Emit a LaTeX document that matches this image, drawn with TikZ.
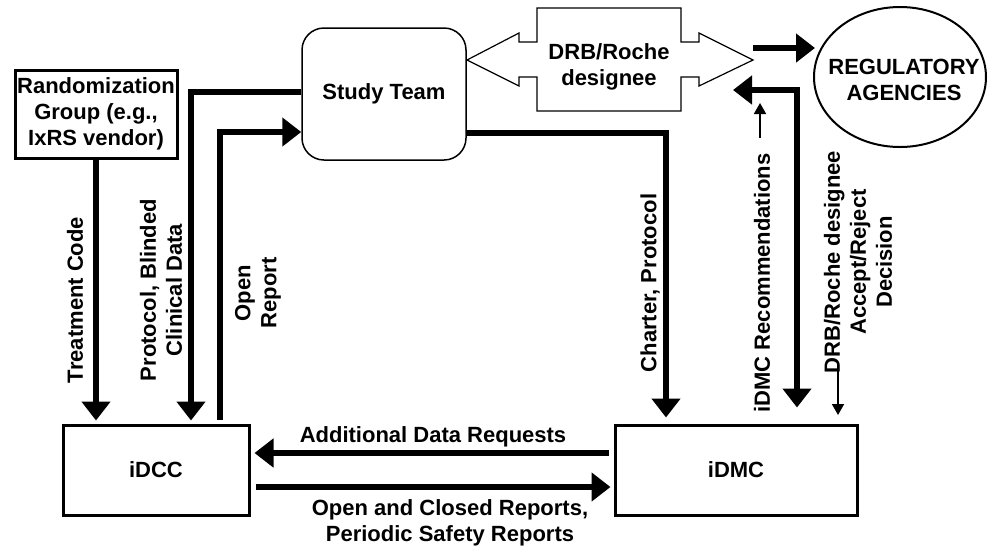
\documentclass[tikz,border=0pt]{standalone}
\usepackage{fontspec}
\setmainfont{Liberation Sans}
\usetikzlibrary{arrows.meta,shapes.geometric}
\begin{document}
\begin{tikzpicture}[x=1pt,y=-1pt,
  every node/.style={font=\fontsize{22}{26}\selectfont\bfseries, align=center, inner sep=0pt},
  sqbox/.style={draw, line width=3pt},
  thk/.style={line width=5.5pt, >={Triangle[length=19pt,width=28pt]}},
  thn/.style={line width=1.8pt, >={Triangle[length=11pt,width=12pt]}},
  lbl/.style={rotate=90}]
\useasboundingbox (0,0) rectangle (989,550);

% nodes
\node[sqbox, minimum width=162pt, minimum height=88pt] (rand) at (96,114)
  {Randomization\\Group (e.g.,\\IxRS vendor)};
\node[draw, line width=1.5pt, rounded corners=22pt, minimum width=164pt, minimum height=132pt] (study) at (384,94) {Study Team};
\node[draw, ellipse, line width=2pt, minimum width=172pt, minimum height=140pt] (reg) at (900,77) {};
\node (regtext) at (904,80) {REGULATORY\\AGENCIES};
\node[sqbox, minimum width=186pt, minimum height=90pt] (idcc) at (156,470) {iDCC};
\node[sqbox, minimum width=242pt, minimum height=90pt] (idmc) at (736,470) {iDMC};

% DRB/Roche double arrow
\coordinate (drbL) at (467,60);
\coordinate (drbR) at (753,60);
\draw[line width=1.2pt, line join=miter] (drbL) -- (519,33) -- (519,42) -- (537,42) -- (537,8) -- (681,8) -- (681,42) -- (699,42) -- (699,33) -- (drbR)
  -- (699,86) -- (699,77) -- (681,77) -- (681,111) -- (537,111) -- (537,77) -- (519,77) -- (519,86) -- cycle;
\node (drb) at (609,67) {DRB/Roche\\designee};

% connectors
\draw[thk,->] (rand.south) -- ([yshift=3pt]rand.south |- idcc.north);
\draw[thk,->] ([yshift=2pt]study.west) -| ([xshift=35pt,yshift=3pt]idcc.north);
\draw[thk,->] ([xshift=64pt,yshift=4pt]idcc.north) |- ([yshift=-38pt]study.west);
\draw[thk,->] ([yshift=-39pt]study.east) -| ([xshift=-70pt,yshift=6pt]idmc.north);
\coordinate (recEnd) at (733,90);
\draw[thk,<->] ([xshift=61pt,yshift=16pt]idmc.north) |- (recEnd);
\draw[thk,->] ([yshift=12pt]drbR) -- ([xshift=2pt,yshift=29pt]reg.west);
\draw[thk,->] ([xshift=-5pt,yshift=17pt]idmc.west) -- ([xshift=4pt,yshift=17pt]idcc.east);
\draw[thk,->] ([xshift=5pt,yshift=-17pt]idcc.east) -- ([xshift=-3pt,yshift=-17pt]idmc.west);

% thin arrows of labels
\coordinate (upS) at (760,138);
\coordinate (upE) at (760,103);
\draw[thn,->] (upS) -- (upE);
\coordinate (dnS) at (838,363);
\coordinate (dnE) at (838,415);
\draw[thn,->] (dnS) -- (dnE);

% labels
\node[lbl] (l1) at (75,300) {Treatment Code};
\node[lbl] (l2) at (161,290) {Protocol, Blinded\\Clinical Data};
\node[lbl] (l3) at (258,293) {Open\\Report};
\node[lbl] (l4) at (650,283) {Charter, Protocol};
\node[lbl] (l5) at (762,283) {iDMC Recommendations};
\node[lbl] (l6) at (858,262) {DRB/Roche designee\\Accept/Reject\\Decision};
\node (l7) at (433,437) {Additional Data Requests};
\node (l8) at (450,523) {Open and Closed Reports,\\Periodic Safety Reports};
\end{tikzpicture}
\end{document}
